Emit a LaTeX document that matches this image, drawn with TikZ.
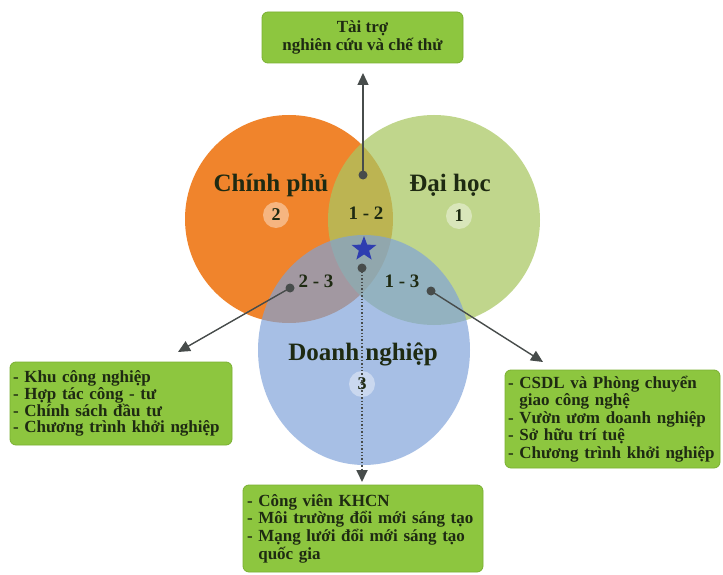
\documentclass[tikz,border=0pt]{standalone}
\usepackage{fontspec}
\setmainfont{Liberation Serif}
\usetikzlibrary{arrows.meta,shapes.geometric,calc}
\definecolor{cOrange}{HTML}{F0842C}
\definecolor{cGreen}{HTML}{A9C761}
\definecolor{cBlue}{HTML}{7EA2D9}
\definecolor{boxGreen}{HTML}{8DC63F}
\definecolor{boxEdge}{HTML}{7AB032}
\definecolor{txt}{HTML}{1E2A12}
\definecolor{lineGrey}{HTML}{474C4B}
\definecolor{starBlue}{HTML}{2E3DB0}
\begin{document}
\begin{tikzpicture}[x=1pt,y=-1pt,
  infobox/.style={draw=boxEdge,line width=0.8pt,fill=boxGreen,rounded corners=6pt,text=txt,font=\bfseries\fontsize{17}{16.8}\selectfont,inner sep=0pt},
  widebox/.style={infobox,font=\bfseries\fontsize{17}{17.6}\selectfont},
  bigname/.style={text=txt,font=\bfseries\fontsize{25}{27}\selectfont},
  pairlabel/.style={text=txt,font=\bfseries\fontsize{19}{21}\selectfont},
  badge/.style={circle,fill=white,fill opacity=0.4,text opacity=1,minimum size=26pt,inner sep=0pt,text=txt,font=\bfseries\fontsize{18}{20}\selectfont},
  dotmark/.style={circle,fill=lineGrey,minimum size=9pt,inner sep=0pt},
  conn/.style={draw=lineGrey,line width=1.4pt,-{Triangle[length=12pt,width=11pt]}},
]
\useasboundingbox (0,0) rectangle (723,575);
\fill[white] (0,0) rectangle (723,575);
% circles
\fill[cOrange] (289,219) ellipse [x radius=104,y radius=104];
\fill[cGreen,fill opacity=0.72] (434,220) ellipse [x radius=106,y radius=105];
\fill[cBlue,fill opacity=0.68] (364,350) ellipse [x radius=106,y radius=115];
% labels in circles
\node[bigname] (cp) at (271,185) {Chính phủ};
\node[badge] (n2) at (276,215) {2};
\node[bigname] (dh) at (450,185) {Đại học};
\node[badge] (n1) at (459,216) {1};
\node[pairlabel] (p12) at (366,213) {1 - 2};
\node[pairlabel] (p23) at (316,281) {2 - 3};
\node[pairlabel] (p13) at (402,281) {1 - 3};
\node[bigname] (dn) at (363,354) {Doanh nghiệp};
\node[badge] (n3) at (362,384) {3};
\node[star,star points=5,star point ratio=2.4,fill=starBlue,minimum size=26pt,inner sep=0pt] (st) at (364,249) {};
% dots
\node[dotmark] (d12) at (363,175) {};
\node[dotmark] (dc) at (362,268) {};
\node[dotmark] (d23) at (290,288) {};
\node[dotmark] (d13) at (431,291) {};
% boxes
\node[widebox,minimum width=201pt,minimum height=51pt,align=center] (top) at (362.5,37.5) {Tài trợ\\nghiên cứu và chế thử};
\node[infobox,minimum width=222pt,minimum height=83pt,text width=216pt,align=left] (lb) at (121,403.5) {- Khu công nghiệp\\- Hợp tác công - tư\\- Chính sách đầu tư\\- Chương trình khởi nghiệp};
\node[widebox,minimum width=215pt,minimum height=98pt,text width=209pt,align=left] (rb) at (612.5,419) {- CSDL và Phòng chuyển\\\phantom{- }giao công nghệ\\- Vườn ươm doanh nghiệp\\- Sở hữu trí tuệ\\- Chương trình khởi nghiệp};
\node[widebox,minimum width=240pt,minimum height=87pt,text width=232pt,align=left] (bb) at (363,528.5) {- Công viên KHCN\\- Môi trường đổi mới sáng tạo\\- Mạng lưới đổi mới sáng tạo\\\phantom{- }quốc gia};
% connector ends
\coordinate (tTop) at (363,73);
\coordinate (tLeft) at (178,352);
\coordinate (tRight) at (543,362);
\coordinate (tBot) at (362,482);
% connectors
\draw[conn] (d12.center) -- (tTop);
\draw[conn] (d23.center) -- (tLeft);
\draw[conn] (d13.center) -- (tRight);
\draw[conn,dotted,line width=1.8pt] (dc.center) -- (tBot);
\end{tikzpicture}
\end{document}
